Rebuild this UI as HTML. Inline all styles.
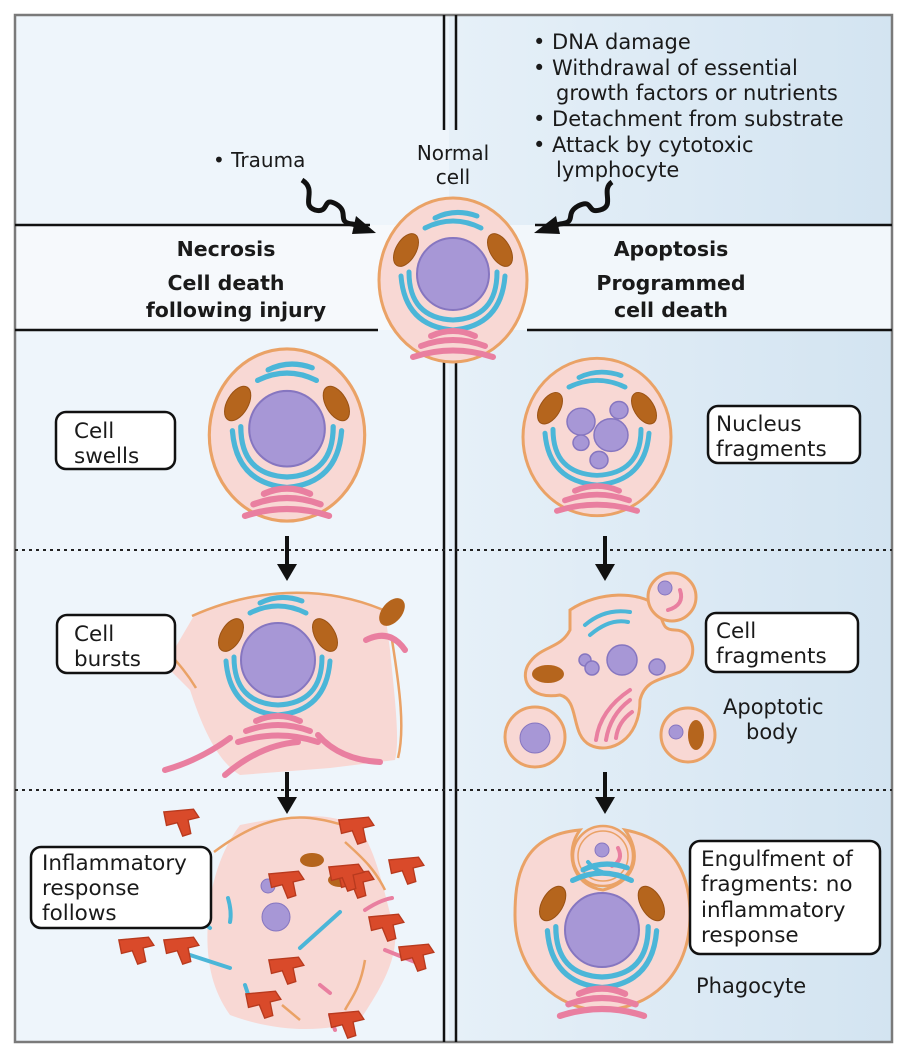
<!DOCTYPE html>
<html><head><meta charset="utf-8"><style>
body{margin:0;width:902px;height:1051px;background:#fff;overflow:hidden}
svg{display:block}
text{font-family:"DejaVu Sans","Liberation Sans",sans-serif;fill:#1a1a1a}
</style></head><body>
<svg width="902" height="1051" viewBox="0 0 902 1051" xmlns="http://www.w3.org/2000/svg">
<defs>
<linearGradient id="rg" x1="0" y1="0" x2="1" y2="0"><stop offset="0" stop-color="#e6f0f8"/><stop offset="1" stop-color="#d3e4f1"/></linearGradient>
<g id="org">
 <ellipse cx="-47" cy="-30" rx="10" ry="18" transform="rotate(30 -47 -30)" fill="#b5651d" stroke="#9a5214" stroke-width="1"/>
 <ellipse cx="47" cy="-30" rx="10" ry="18" transform="rotate(-30 47 -30)" fill="#b5651d" stroke="#9a5214" stroke-width="1"/>
 <g fill="none" stroke="#4bb6d8" stroke-width="5" stroke-linecap="round">
  <path d="M-28,-52 Q0,-66 28,-52"/><path d="M-18,-62 Q2,-72 24,-64"/>
  <path d="M-44,-8 Q-44,38 0,40 Q44,38 44,-8"/><path d="M-52,-4 Q-48,46 0,50 Q48,46 52,-4"/>
 </g>
 <g fill="none" stroke="#e97fa0" stroke-width="6" stroke-linecap="round">
  <path d="M-22,56 Q0,46 22,56"/><path d="M-32,66 Q0,54 32,66"/><path d="M-40,77 Q0,64 40,77"/>
 </g>
</g>
<g id="cell">
 <ellipse cx="0" cy="0" rx="74" ry="82" fill="#f8d8d4" stroke="#eaa266" stroke-width="3"/>
 <use href="#org"/>
 <circle cx="0" cy="-6" r="36" fill="#a797d6" stroke="#8676c0" stroke-width="2"/>
</g>
<g id="pmac"><path d="M-12,-6 L10,-8 L14,-2 L6,0 L8,10 L2,12 L-2,2 L-10,4 Z" fill="#d94a2a" stroke="#b83a1e" transform="scale(1.35)"/></g>
</defs>

<rect x="15" y="15" width="434" height="1027" fill="#eef5fb"/>
<rect x="449" y="15" width="443" height="1027" fill="url(#rg)"/>
<rect x="15" y="225" width="434" height="105" fill="#f6f9fc"/>
<rect x="449" y="225" width="443" height="105" fill="#f2f7fb"/>
<rect x="15" y="15" width="877" height="1027" fill="none" stroke="#7a7a7a" stroke-width="2.5"/>
<g stroke="#111" stroke-width="2.5">
<line x1="444" y1="15" x2="444" y2="130"/><line x1="456" y1="15" x2="456" y2="130"/>
<line x1="444" y1="350" x2="444" y2="1042"/><line x1="456" y1="350" x2="456" y2="1042"/>
<line x1="15" y1="225" x2="370" y2="225"/><line x1="535" y1="225" x2="892" y2="225"/>
<line x1="15" y1="330" x2="378" y2="330"/><line x1="527" y1="330" x2="892" y2="330"/>
</g>
<g stroke="#222" stroke-width="2" stroke-dasharray="3,4">
<line x1="15" y1="550" x2="892" y2="550"/><line x1="15" y1="790" x2="892" y2="790"/>
</g>

<text x="213" y="167" font-size="20">• Trauma</text>
<text x="453" y="160" font-size="20" text-anchor="middle">Normal</text>
<text x="453" y="184" font-size="20" text-anchor="middle">cell</text>
<g font-size="21">
<text x="533" y="49">• DNA damage</text>
<text x="533" y="75">• Withdrawal of essential</text>
<text x="556" y="100">growth factors or nutrients</text>
<text x="533" y="126">• Detachment from substrate</text>
<text x="533" y="152">• Attack by cytotoxic</text>
<text x="556" y="177">lymphocyte</text>
</g>
<g font-size="20.5" font-weight="bold" text-anchor="middle">
<text x="226" y="256">Necrosis</text>
<text x="226" y="290">Cell death</text>
<text x="236" y="317">following injury</text>
<text x="671" y="256">Apoptosis</text>
<text x="671" y="290">Programmed</text>
<text x="671" y="317">cell death</text>
</g>
<path d="M302,180 C318,190 300,205 315,210 C330,214 322,196 336,204 C350,212 336,222 352,224 L362,226" fill="none" stroke="#111" stroke-width="5" stroke-linejoin="round"/>
<path d="M356,216 L376,233 L352,234 Z" fill="#111"/>
<path d="M612,182 C600,190 616,206 600,210 C586,214 594,198 578,206 C564,214 578,222 560,224 L552,226" fill="none" stroke="#111" stroke-width="5" stroke-linejoin="round"/>
<path d="M556,216 L534,233 L560,234 Z" fill="#111"/>

<use href="#cell" transform="translate(453,280)"/>
<use href="#cell" transform="translate(287,435) scale(1.05,1.05)"/>
<g transform="translate(597,437) scale(1.0,0.96)">
 <ellipse cx="0" cy="0" rx="74" ry="82" fill="#f8d8d4" stroke="#eaa266" stroke-width="3"/>
 <use href="#org"/>
 <g fill="#a797d6" stroke="#8676c0" stroke-width="1.5">
  <circle cx="-16" cy="-16" r="14"/><circle cx="14" cy="-2" r="17"/><circle cx="22" cy="-28" r="9"/><circle cx="-16" cy="6" r="8"/><circle cx="2" cy="24" r="9"/>
 </g>
</g>

<path d="M195,614 C260,590 320,582 385,612 L390,650 C395,700 400,740 395,760 L330,768 L240,775 C215,760 200,720 190,690 L165,665 Z" fill="#f8d8d4"/>
<path d="M192,616 C250,590 320,582 388,612 M392,640 C400,690 405,730 398,758 M196,688 C185,670 175,660 168,652" fill="none" stroke="#eaa266" stroke-width="2.5"/>
<use href="#org" transform="translate(278,665)"/>
<circle cx="278" cy="660" r="37" fill="#a797d6" stroke="#8676c0" stroke-width="2"/>
<ellipse cx="392" cy="612" rx="10" ry="16" transform="rotate(40 392 612)" fill="#b5651d"/>
<g fill="none" stroke="#e97fa0" stroke-width="6" stroke-linecap="round">
<path d="M366,640 Q390,628 405,650"/><path d="M165,770 Q200,760 230,738"/><path d="M225,775 Q260,745 298,742"/><path d="M318,735 Q340,760 380,762"/>
</g>
<line x1="287" y1="536" x2="287" y2="568" stroke="#111" stroke-width="4"/>
<path d="M277,564 L297,564 L287,581 Z" fill="#111"/>
<line x1="605" y1="536" x2="605" y2="568" stroke="#111" stroke-width="4"/>
<path d="M595,564 L615,564 L605,581 Z" fill="#111"/>

<path d="M570,610 C600,590 640,592 655,605 C665,620 660,630 675,630 C695,630 700,660 680,672 C660,680 645,680 640,700 C640,740 610,755 590,745 C570,735 580,700 560,695 C530,700 520,680 528,665 C540,645 560,650 570,630 Z" fill="#f8d8d4" stroke="#eaa266" stroke-width="3"/>
<g fill="none" stroke="#4bb6d8" stroke-width="4" stroke-linecap="round"><path d="M585,625 Q605,608 630,612"/><path d="M590,635 Q610,618 628,622"/></g>
<g fill="#a797d6" stroke="#8676c0" stroke-width="1.5"><circle cx="622" cy="660" r="15"/><circle cx="585" cy="660" r="6"/><circle cx="592" cy="668" r="7"/><circle cx="657" cy="667" r="8"/></g>
<ellipse cx="548" cy="674" rx="16" ry="9" fill="#b5651d"/>
<g fill="none" stroke="#e97fa0" stroke-width="4" stroke-linecap="round"><path d="M596,740 Q600,710 630,690"/><path d="M606,740 Q610,715 630,700"/><path d="M616,738 Q618,722 632,712"/></g>
<circle cx="672" cy="597" r="24" fill="#f8d8d4" stroke="#eaa266" stroke-width="3"/>
<circle cx="665" cy="588" r="7" fill="#a797d6" stroke="#8676c0"/>
<path d="M680,590 Q685,605 668,610" fill="none" stroke="#e97fa0" stroke-width="4" stroke-linecap="round"/>
<circle cx="535" cy="737" r="30" fill="#f8d8d4" stroke="#eaa266" stroke-width="3"/>
<circle cx="535" cy="738" r="15" fill="#a797d6" stroke="#8676c0"/>
<circle cx="688" cy="735" r="27" fill="#f8d8d4" stroke="#eaa266" stroke-width="3"/>
<circle cx="676" cy="732" r="7" fill="#a797d6" stroke="#8676c0"/>
<ellipse cx="696" cy="735" rx="8" ry="15" fill="#b5651d"/>
<text x="723" y="714" font-size="21">Apoptotic</text>
<text x="746" y="739" font-size="21">body</text>

<line x1="287" y1="772" x2="287" y2="800" stroke="#111" stroke-width="4"/>
<path d="M277,797 L297,797 L287,814 Z" fill="#111"/>
<line x1="605" y1="772" x2="605" y2="800" stroke="#111" stroke-width="4"/>
<path d="M595,797 L615,797 L605,814 Z" fill="#111"/>

<path d="M240,825 C290,815 330,810 360,828 C380,860 385,900 395,930 C398,960 380,990 360,1020 C320,1035 270,1030 230,1015 C205,980 205,940 210,900 C215,870 225,845 240,825 Z" fill="#f8d8d4"/>
<path d="M214,852 C250,825 280,815 310,818 C330,820 340,825 356,828 M345,842 C365,860 375,870 385,890 M365,960 C360,990 350,1000 345,1010 M282,1005 L300,1020" fill="none" stroke="#eaa266" stroke-width="2.5"/>
<circle cx="276" cy="917" r="14" fill="#a797d6" stroke="#8676c0"/><circle cx="268" cy="886" r="7" fill="#a797d6" stroke="#8676c0"/>
<ellipse cx="312" cy="860" rx="12" ry="7" fill="#b5651d"/><ellipse cx="340" cy="880" rx="12" ry="7" fill="#b5651d"/>
<g fill="none" stroke="#4bb6d8" stroke-width="4" stroke-linecap="round"><path d="M190,955 L230,968"/><path d="M300,948 L340,912"/><path d="M228,898 Q232,912 230,922"/><path d="M245,985 L250,1000"/><path d="M200,920 L210,928"/></g>
<g fill="none" stroke="#e97fa0" stroke-width="4" stroke-linecap="round"><path d="M365,910 Q380,900 392,898"/><path d="M385,950 L415,962"/><path d="M330,1015 L335,1030"/><path d="M320,985 L330,993"/></g>
<use href="#pmac" transform="translate(180,820)"/><use href="#pmac" transform="translate(355,828)"/><use href="#pmac" transform="translate(405,868)"/>
<use href="#pmac" transform="translate(285,882)"/><use href="#pmac" transform="translate(355,882)"/><use href="#pmac" transform="translate(345,875)"/>
<use href="#pmac" transform="translate(385,925)"/><use href="#pmac" transform="translate(415,955)"/><use href="#pmac" transform="translate(135,948)"/>
<use href="#pmac" transform="translate(180,948)"/><use href="#pmac" transform="translate(285,968)"/><use href="#pmac" transform="translate(262,1002)"/>
<use href="#pmac" transform="translate(345,1022)"/>

<path d="M580,830 C520,835 515,880 515,915 C515,975 560,1010 600,1010 C650,1010 690,975 690,915 C690,870 670,838 625,830 C640,850 640,880 603,890 C570,885 565,850 580,830 Z" fill="#f8d8d4" stroke="#eaa266" stroke-width="3"/>
<circle cx="603" cy="856" r="30" fill="#f8d8d4" stroke="#eaa266" stroke-width="2.5"/>
<circle cx="603" cy="856" r="25" fill="none" stroke="#eaa266" stroke-width="1.5"/>
<circle cx="602" cy="850" r="7" fill="#a797d6" stroke="#8676c0"/>
<path d="M618,848 Q624,860 612,866" fill="none" stroke="#e97fa0" stroke-width="4" stroke-linecap="round"/>
<path d="M588,862 Q596,872 610,874" fill="none" stroke="#4bb6d8" stroke-width="4" stroke-linecap="round"/>
<use href="#org" transform="translate(602,935) scale(1.05)"/>
<circle cx="602" cy="930" r="37" fill="#a797d6" stroke="#8676c0" stroke-width="2"/>
<text x="696" y="993" font-size="21">Phagocyte</text>

<g fill="#fff" stroke="#111" stroke-width="2.5">
<rect x="56" y="412" width="119" height="57" rx="10"/>
<rect x="57" y="615" width="118" height="58" rx="10"/>
<rect x="31" y="847" width="180" height="81" rx="10"/>
<rect x="708" y="406" width="152" height="57" rx="10"/>
<rect x="706" y="613" width="152" height="59" rx="10"/>
<rect x="690" y="841" width="190" height="113" rx="10"/>
</g>
<g font-size="21.5">
<text x="74" y="438">Cell</text><text x="74" y="463">swells</text>
<text x="74" y="641">Cell</text><text x="74" y="666">bursts</text>
<text x="42" y="870">Inflammatory</text><text x="42" y="895">response</text><text x="42" y="920">follows</text>
<text x="716" y="431">Nucleus</text><text x="716" y="456">fragments</text>
<text x="716" y="638">Cell</text><text x="716" y="663">fragments</text>
<text x="701" y="866">Engulfment of</text><text x="701" y="891">fragments: no</text><text x="701" y="917">inflammatory</text><text x="701" y="942">response</text>
</g>
</svg>
</body></html>
